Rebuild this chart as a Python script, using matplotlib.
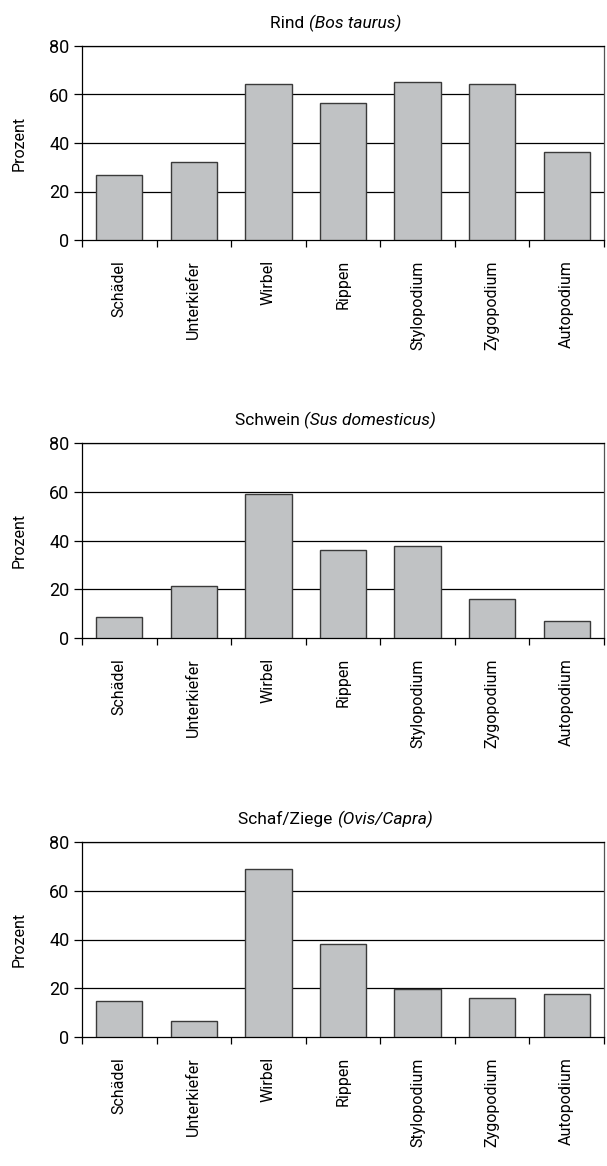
import matplotlib
matplotlib.use("Agg")
import matplotlib.pyplot as plt
import numpy as np
from matplotlib.offsetbox import TextArea, HPacker, AnnotationBbox

categories = ["Schädel", "Unterkiefer", "Wirbel", "Rippen", "Stylopodium", "Zygopodium", "Autopodium"]
rind = [27.0, 32.0, 64.2, 56.5, 65.2, 64.4, 36.1]
schwein = [8.7, 21.4, 59.2, 35.9, 37.8, 15.9, 7.1]
schaf = [14.8, 6.4, 68.8, 38.1, 19.8, 15.8, 17.7]
titles_plain = ["Rind ", "Schwein ", "Schaf/Ziege "]
titles_italic = ["(Bos taurus)", "(Sus domesticus)", "(Ovis/Capra)"]
yticks = [0, 20, 40, 60, 80]
ylabel = "Prozent"

FAM = ['Roboto', 'DejaVu Sans']
plt.rcParams['font.family'] = FAM

W, H = 607, 1166
fig = plt.figure(figsize=(W / 100, H / 100), dpi=100)

panels = [(46, 240), (443, 638), (842, 1037)]
left_px, right_px = 82, 604
series = [rind, schwein, schaf]

for (top, bot), vals, tp, ti in zip(panels, series, titles_plain, titles_italic):
    ax = fig.add_axes([left_px / W, 1 - bot / H, (right_px - left_px) / W, (bot - top) / H])
    x = np.arange(len(categories))
    ax.bar(x, vals, width=0.62, color="#c0c2c4", edgecolor="#3a3a3a", linewidth=1.0, zorder=3)
    ax.set_xlim(-0.5, len(categories) - 0.5)
    ax.set_ylim(0, 80)
    ax.set_yticks(yticks)
    ax.set_yticklabels([str(v) for v in yticks], fontsize=13)
    for v in yticks[1:]:
        ax.axhline(v, color="black", linewidth=0.9, zorder=1)
    ax.set_xticks(x)
    ax.set_xticklabels(categories, rotation=90, fontsize=11.5)
    ax.tick_params(axis='x', length=0, pad=14.5)
    ax.set_xticks(np.arange(-0.5, len(categories), 1.0), minor=True)
    ax.tick_params(axis='x', which='minor', length=5, width=0.9, direction='out', color='black')
    ax.tick_params(axis='y', length=6, width=0.9, direction='out', pad=3)
    ax.set_ylabel(ylabel, fontsize=11.5)
    ax.yaxis.set_label_coords((27 - left_px) / (right_px - left_px), 0.5)
    for s in ['left', 'bottom', 'top']:
        ax.spines[s].set_color('black')
        ax.spines[s].set_linewidth(0.9)
    ax.spines['right'].set_color('#555555')
    ax.spines['right'].set_linewidth(0.9)

    t1 = TextArea(tp, textprops=dict(fontsize=12.5, family=FAM))
    t2 = TextArea(ti, textprops=dict(fontsize=12.5, style='italic', family=FAM))
    box = HPacker(children=[t1, t2], align="baseline", pad=0, sep=0)
    cx = ((268 + 403) / 2 - left_px) / (right_px - left_px)
    ab = AnnotationBbox(box, (cx, 1.0), xycoords='axes fraction',
                        xybox=(0, 10), boxcoords='offset points',
                        box_alignment=(0.5, 0.0), frameon=False, pad=0)
    ax.add_artist(ab)

fig.savefig("out.png", dpi=100)
